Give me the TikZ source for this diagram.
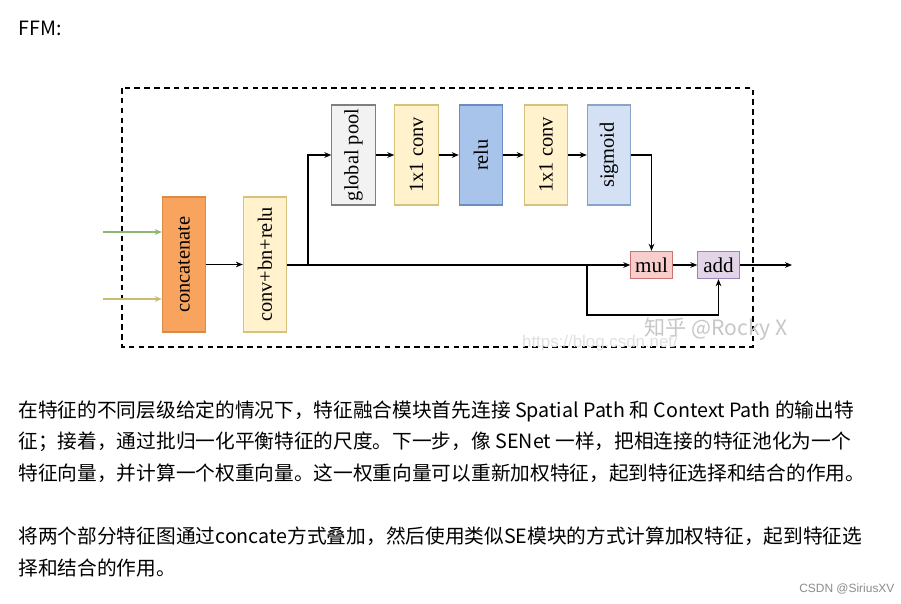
\documentclass[tikz,border=0pt]{standalone}
\usepackage{fontspec}
\usepackage{graphicx}
\setmainfont{Liberation Serif}
\newfontfamily\cjk{Noto Sans CJK SC}
\newfontfamily\wmsans{Liberation Sans}
\usetikzlibrary{arrows.meta}
\definecolor{orgfill}{HTML}{F8A45E}
\definecolor{orgline}{HTML}{D98B45}
\definecolor{yelfill}{HTML}{FFF2CC}
\definecolor{yelline}{HTML}{D6C27A}
\definecolor{grayfill}{HTML}{F2F2F2}
\definecolor{grayline}{HTML}{7F7F7F}
\definecolor{bluefill}{HTML}{A9C4EB}
\definecolor{blueline}{HTML}{6C8EBF}
\definecolor{skyfill}{HTML}{D4E1F5}
\definecolor{skyline}{HTML}{8AA3C8}
\definecolor{redfill}{HTML}{F8CECC}
\definecolor{redline}{HTML}{C87472}
\definecolor{lilfill}{HTML}{E1D5E7}
\definecolor{lilline}{HTML}{9A86B5}
\definecolor{ingreen}{HTML}{8DB872}
\definecolor{inolive}{HTML}{C9BC6E}
\tikzset{
  blk/.style={draw, line width=0.8pt, inner sep=0pt, minimum width=1.08cm, minimum height=2.5cm,
    font=\fontsize{14.5}{16}\selectfont},
  tall/.style={blk, minimum height=3.375cm},
  op/.style={draw, line width=0.8pt, inner sep=0pt, minimum width=1.03cm, minimum height=0.68cm,
    font=\fontsize{15}{16}\selectfont},
  txt/.style={anchor=west, inner sep=0pt, font=\cjk\fontsize{14}{17}\selectfont},
}
\begin{document}
\begin{tikzpicture}[x=0.025cm, y=-0.025cm, >={Stealth[length=5pt,width=4pt]}, line width=0.8pt]
\useasboundingbox[fill=white] (0,0) rectangle (901,604);
\node[txt] (title) at (18,28) {FFM:};
% frame
\draw[dashed, line width=1.4pt, dash pattern=on 4pt off 3pt] (122,88) rectangle (753,347);
% blocks
\node[tall, fill=orgfill, draw=orgline] (concat) at (184,264.5) {\rotatebox{90}{concatenate}};
\node[tall, fill=yelfill, draw=yelline] (cbr) at (265,264.5) {\rotatebox{90}{conv+bn+relu}};
\node[blk, fill=grayfill, draw=grayline] (gpool) at (353.5,155) {\rotatebox{90}{global pool}};
\node[blk, fill=yelfill, draw=yelline] (convA) at (416.5,155) {\rotatebox{90}{1x1 conv}};
\node[blk, fill=bluefill, draw=blueline] (relu) at (481,155) {\rotatebox{90}{relu}};
\node[blk, fill=yelfill, draw=yelline] (convB) at (546,155) {\rotatebox{90}{1x1 conv}};
\node[blk, fill=skyfill, draw=skyline] (sig) at (609,155) {\rotatebox{90}{sigmoid}};
\node[op, fill=redfill, draw=redline] (mul) at (651.5,265) {mul};
\node[op, fill=lilfill, draw=lilline] (add) at (718.5,265) {add};
% free ends
\coordinate (inA) at (103,232);
\coordinate (inB) at (103,299);
\coordinate (branch) at (308,265);
\coordinate (byp) at (587,265);
\coordinate (loop) at (587,315);
\coordinate (out) at (792,265);
% connectors
\draw[->, ingreen] (inA) -- (concat.west |- inA);
\draw[->, inolive] (inB) -- (concat.west |- inB);
\draw[->] (concat) -- (cbr);
\draw[line width=1.6pt] (cbr.east |- byp) -- (byp);
\draw[->] (byp) -- (mul.west);
\draw[->] (branch) |- (gpool.west);
\draw[->] (gpool) -- (convA);
\draw[->] (convA) -- (relu);
\draw[->] (relu) -- (convB);
\draw[->] (convB) -- (sig);
\draw[->] (sig.east) -| (mul.north);
\draw[->] (mul) -- (add);
\draw[->] (byp) -- (loop) -| (add.south);
\draw[->] (add) -- (out);
% watermarks
\node[inner sep=0pt, text=black!22, font=\cjk\fontsize{15}{17}\selectfont] (wmzh) at (716,329) {知乎 @Rocky X};
\node[inner sep=0pt, text=black!12, font=\wmsans\fontsize{12}{14}\selectfont] (wmurl) at (600,343) {https://blog.csdn.net/};
% text
\node[txt] (l1) at (18,411) {在特征的不同层级给定的情况下，特征融合模块首先连接 Spatial Path 和 Context Path 的输出特};
\node[txt] (l2) at (18,442) {征；接着，通过批归一化平衡特征的尺度。下一步，像 SENet 一样，把相连接的特征池化为一个};
\node[txt] (l3) at (18,473) {特征向量，并计算一个权重向量。这一权重向量可以重新加权特征，起到特征选择和结合的作用。};
\node[txt] (l4) at (18,536) {将两个部分特征图通过concate方式叠加，然后使用类似SE模块的方式计算加权特征，起到特征选};
\node[txt] (l5) at (18,568) {择和结合的作用。};
\node[anchor=east, inner sep=0pt, text=black!45, font=\wmsans\fontsize{8.5}{10}\selectfont] (csdn) at (895,589) {CSDN @SiriusXV};
\end{tikzpicture}
\end{document}
